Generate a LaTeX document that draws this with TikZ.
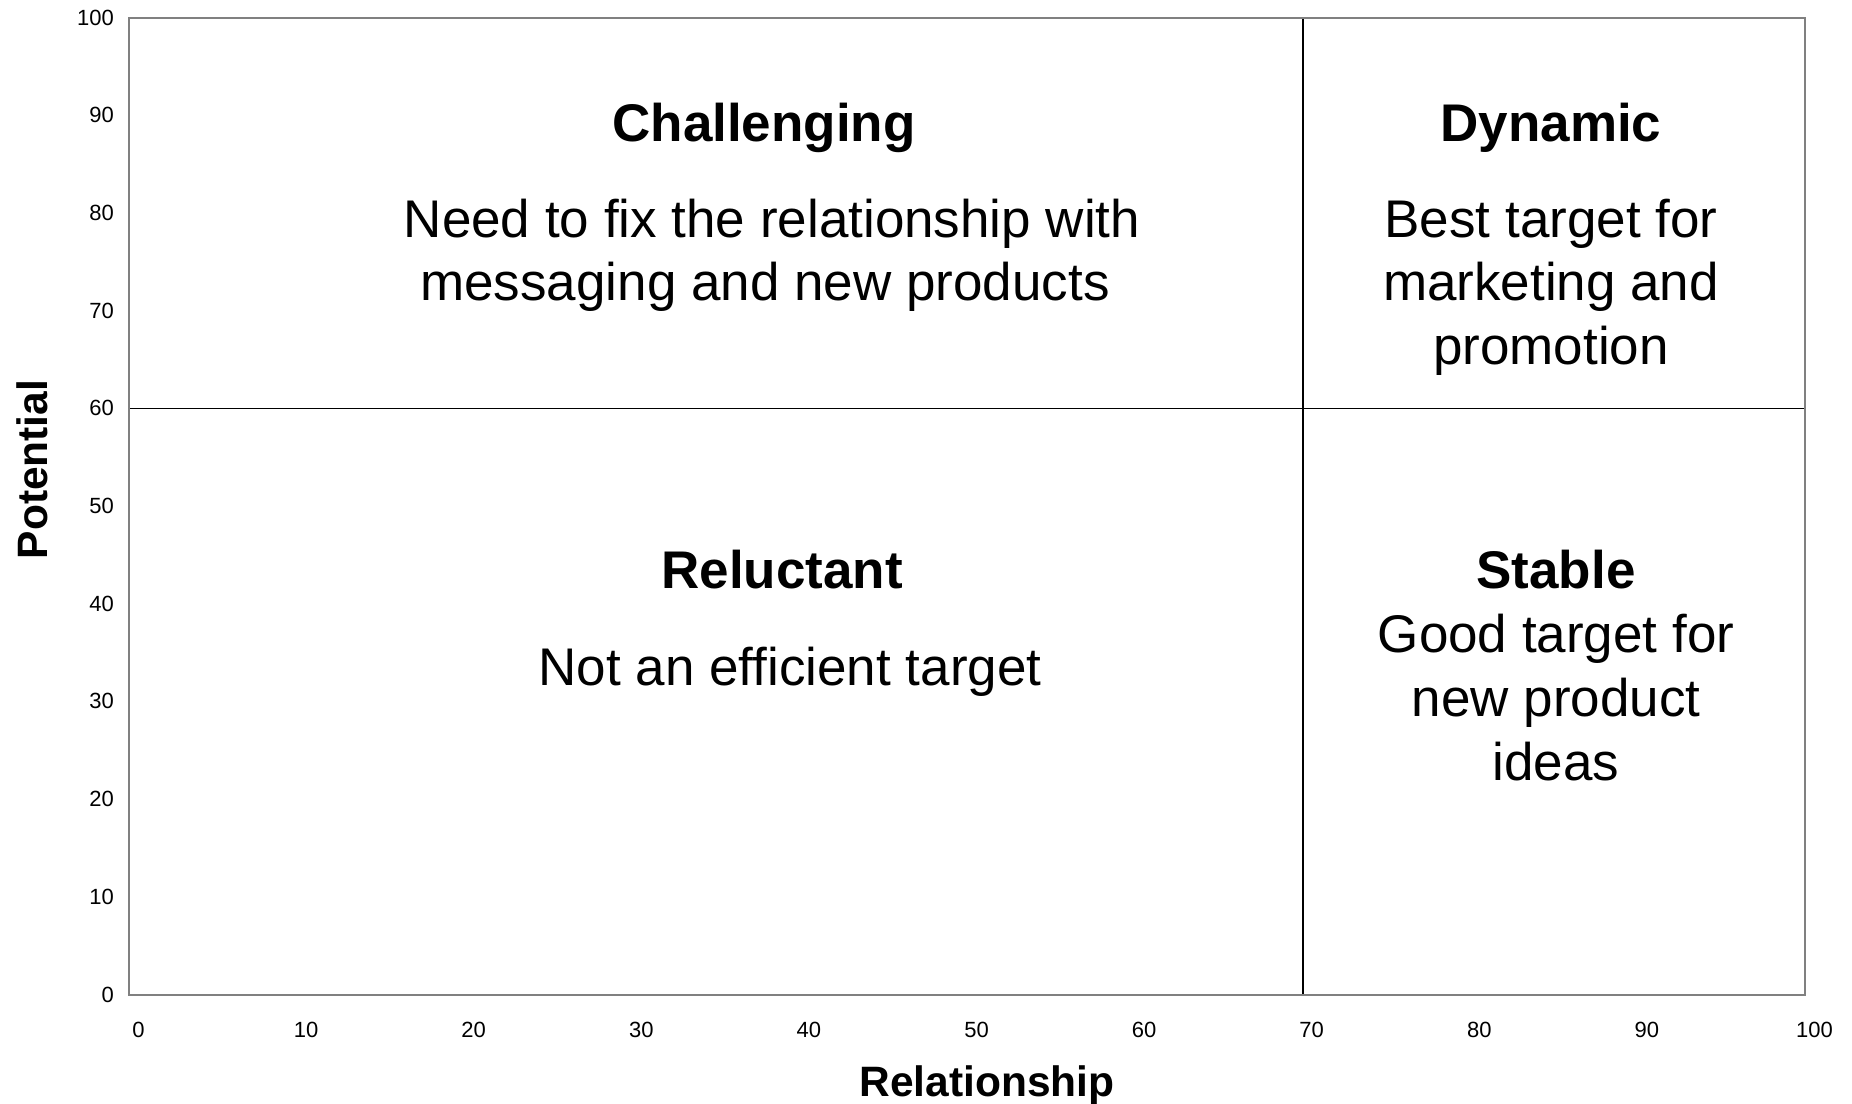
\documentclass[tikz,border=0pt]{standalone}
\usepackage{fontspec}
\setmainfont{Liberation Sans}
\begin{document}
\begin{tikzpicture}[x=1pt,y=-1pt,
  frame/.style={draw=black!50,line width=2pt},
  quad/.style={draw=black,line width=1.2pt},
  ticklab/.style={inner sep=0pt,font=\fontsize{22}{26}\selectfont},
  axtitle/.style={inner sep=0pt,anchor=base,font=\fontsize{42.5}{50}\selectfont\bfseries},
  qtitle/.style={inner sep=0pt,anchor=base,font=\fontsize{53}{64}\selectfont\bfseries},
  qtext/.style={inner sep=0pt,anchor=base,font=\fontsize{53}{64}\selectfont}]
\useasboundingbox[fill=white] (0,0) rectangle (1852,1103);
% plot frame corners
\coordinate (bl) at (129,994.5);
\coordinate (tr) at (1805,17.5);
\coordinate (vtop) at (1303,17.5);
\coordinate (vbot) at (1303,994.5);
\coordinate (hl) at (129,408.5);
\coordinate (hr) at (1805,408.5);
\draw[quad] (vtop) -- (vbot);
\draw[quad] (hl) -- (hr);
\draw[frame] (bl) rectangle (tr);
% y tick labels
\foreach \v in {0,10,...,100}{
  \node[ticklab,anchor=east] (y\v) at (114,{994.5-9.77*\v}) {\v};
}
% x tick labels
\foreach \v in {0,10,...,100}{
  \node[ticklab,anchor=center] (x\v) at ({129+16.76*\v+9.5},1030) {\v};
}
% axis titles
\node[axtitle] (xt) at (987,1096) {Relationship};
\node[axtitle,rotate=90] (yt) at (47,469.5) {Potential};
% Challenging
\node[qtitle] (chT) at (764,141) {Challenging};
\node[qtext] (ch1) at (772,237) {Need to fix the relationship with};
\node[qtext] (ch2) at (765,300) {messaging and new products};
% Dynamic
\node[qtitle] (dyT) at (1551,141) {Dynamic};
\node[qtext] (dy1) at (1551,237) {Best target for};
\node[qtext] (dy2) at (1551,300) {marketing and};
\node[qtext] (dy3) at (1551,364) {promotion};
% Reluctant
\node[qtitle] (reT) at (782,588) {Reluctant};
\node[qtext] (re1) at (790,685) {Not an efficient target};
% Stable
\node[qtitle] (stT) at (1556,588) {Stable};
\node[qtext] (st1) at (1556,652) {Good target for};
\node[qtext] (st2) at (1556,716) {new product};
\node[qtext] (st3) at (1556,780) {ideas};
\end{tikzpicture}
\end{document}
